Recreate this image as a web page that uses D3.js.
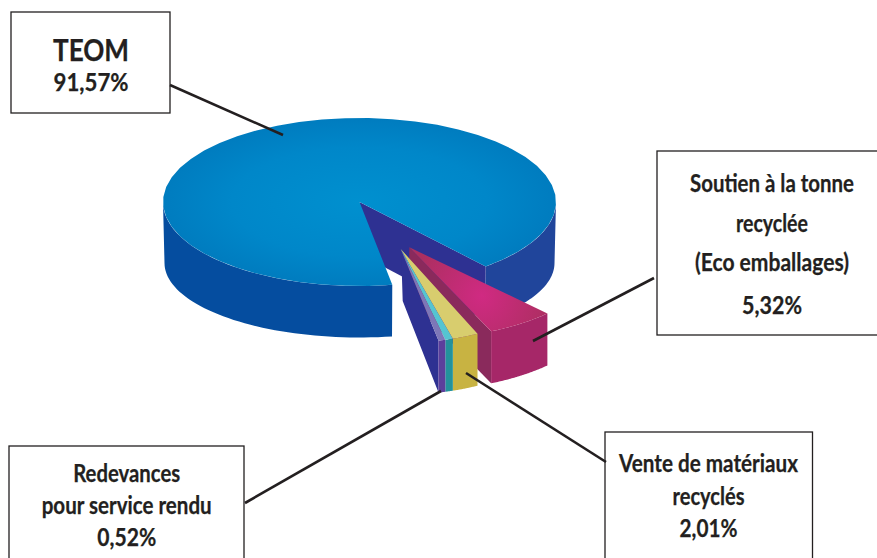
<!DOCTYPE html>
<html>
<head>
<meta charset="utf-8">
<script src="https://cdn.jsdelivr.net/npm/d3@7"></script>
<style>
  html, body { margin: 0; padding: 0; background: #fff; }
  svg { display: block; }
  text { font-family: Lato, "Noto Sans", sans-serif; font-weight: 700; fill: #231f20; stroke: #231f20; stroke-width: 0.25; text-anchor: middle; }
</style>
</head>
<body>
<svg class="chart" width="877" height="558"></svg>
<script>
// shares in pie order, clockwise from the cut at the front of the big slice
const SLICE_NAMES = ["TEOM", "Soutien à la tonne recyclée", "Vente de matériaux recyclés", "(sans étiquette)", "Redevances pour service rendu"];
const SLICE_VALUES = [91.57, 5.32, 2.01, 0.58, 0.52];
const TOP_COLORS = ["url(#topBlue)", "url(#topMagenta)", "#d8cd6e", "#55c4d1", "#7d77b8"];
const FRONT_COLORS = ["#054d9f", "#a62768", "#c8b342", "#23929c", "#5c3f9c"];

const BOX_LINES = [
    ["TEOM", "91,57%"],
    ["Soutien à la tonne", "recyclée", "(Eco emballages)", "5,32%"],
    ["Vente de matériaux", "recyclés", "2,01%"],
    ["Redevances", "pour service rendu", "0,52%"]
];

const PIE_START = 170.4 * Math.PI / 180;
const TOP = {cx: 359.5, cy: 202, rx: 196.5, ry: 84};
const BOTTOM = {cx: 359.5, cy: 263, rx: 195, ry: 74.5};
const PIECE_DEPTH = 52;

// pieces pulled out of the pie: apex position, size, growth towards the viewer, small turn
const MAGENTA_PIECE = {ax: 409.3, ay: 247.3, near: 1.072, slope: 0.16, turn: -1.8 * Math.PI / 180};
const SMALL_PIECE = {ax: 400.7, ay: 249, near: 1.04, slope: 0.5, turn: -0.4 * Math.PI / 180};

const BOXES = [
    {x: 11, y: 12, w: 159, h: 101, baselines: [60.5, 91], sizes: [30, 25], widths: [76, 75], cx: 91},
    {x: 657, y: 151, w: 240, h: 184, baselines: [191.7, 231.7, 270.7, 314], sizes: [24, 24, 24, 24], widths: [164, 72, 154, 60], cx: 772},
    {x: 605, y: 432, w: 207.5, h: 150, baselines: [471.7, 505, 537], sizes: [24, 24, 24], widths: [179, 72, 58], cx: 708.5},
    {x: 9, y: 446, w: 235, h: 140, baselines: [481.7, 514, 546], sizes: [24, 24, 24], widths: [107, 170, 59], cx: 126.7}
];
const LEADERS = [
    [[170, 85], [283, 135]],
    [[654, 278], [533, 341]],
    [[606, 462], [466, 373]],
    [[245, 503], [441, 391]]
];

const svg = d3.select("svg.chart");
const line = d3.line();

const onEllipse = (e, a) => [e.cx + Math.sin(a) * e.rx, e.cy - Math.cos(a) * e.ry];

const sample = (a0, a1) => d3.range(0, 1.0001, 1 / 48).map(t => a0 + (a1 - a0) * t);

const ellipseArc = (e, a0, a1) => sample(a0, a1).map(a => onEllipse(e, a));

const onPiece = (p, a, drop = 0) => {
    const t = a + p.turn;
    const u = Math.sin(t), v = -Math.cos(t);
    const f = p.near + p.slope * (v - 0.85);
    return [p.ax + u * f * TOP.rx, p.ay + v * f * TOP.ry + drop];
};

const pieceArc = (p, a0, a1, drop = 0) => sample(a0, a1).map(a => onPiece(p, a, drop));

const closed = pts => line(pts) + "Z";

const renderGradients = () => {
    const defs = svg.append("defs");
    const blue = defs.append("radialGradient")
        .attr("id", "topBlue")
        .attr("gradientUnits", "userSpaceOnUse")
        .attr("cx", TOP.cx).attr("cy", TOP.cy).attr("r", TOP.rx)
        .attr("gradientTransform", `translate(${TOP.cx},${TOP.cy}) scale(1,${TOP.ry / TOP.rx}) translate(${-TOP.cx},${-TOP.cy})`);
    blue.append("stop").attr("offset", 0).attr("stop-color", "#0090cf");
    blue.append("stop").attr("offset", 0.65).attr("stop-color", "#0087c9");
    blue.append("stop").attr("offset", 1).attr("stop-color", "#007cbf");

    const magenta = defs.append("radialGradient")
        .attr("id", "topMagenta")
        .attr("gradientUnits", "userSpaceOnUse")
        .attr("cx", 482).attr("cy", 296).attr("r", 72);
    magenta.append("stop").attr("offset", 0).attr("stop-color", "#d02a82");
    magenta.append("stop").attr("offset", 1).attr("stop-color", "#ab2f60");
};

const renderMainSlice = arc => {
    const end = arc.endAngle;
    // outer walls, left and front part then the right part
    svg.append("path")
        .attr("d", closed(ellipseArc(TOP, arc.startAngle, 3 * Math.PI / 2)
            .concat(ellipseArc(BOTTOM, 3 * Math.PI / 2, arc.startAngle))))
        .attr("fill", FRONT_COLORS[0]);
    svg.append("path")
        .attr("d", closed(ellipseArc(TOP, 2.5 * Math.PI, end)
            .concat(ellipseArc(BOTTOM, end, 2.5 * Math.PI))))
        .attr("fill", "#20459b");
    // cut face seen through the gap
    svg.append("path")
        .attr("d", closed([
            [TOP.cx, TOP.cy],
            onEllipse(TOP, end),
            onEllipse(BOTTOM, end),
            [TOP.cx, TOP.cy + PIECE_DEPTH]
        ]))
        .attr("fill", "#2e3192");
    svg.append("path")
        .attr("d", closed([[TOP.cx, TOP.cy]].concat(ellipseArc(TOP, arc.startAngle, end))))
        .attr("fill", TOP_COLORS[0]);
};

const renderMagentaPiece = (arc, i) => {
    const p = MAGENTA_PIECE;
    const apex = [p.ax, p.ay];
    const a0 = arc.startAngle % (2 * Math.PI), a1 = arc.endAngle % (2 * Math.PI);
    // cut face on the left
    svg.append("path")
        .attr("d", closed([apex, onPiece(p, a1), onPiece(p, a1, PIECE_DEPTH), [p.ax, p.ay + PIECE_DEPTH]]))
        .attr("fill", "#8a2a5c");
    svg.append("path")
        .attr("d", closed(pieceArc(p, a0, a1).concat(pieceArc(p, a1, a0, PIECE_DEPTH))))
        .attr("fill", FRONT_COLORS[i]);
    svg.append("path")
        .attr("d", closed([apex].concat(pieceArc(p, a0, a1))))
        .attr("fill", TOP_COLORS[i]);
};

const renderSmallPieces = arcs => {
    const p = SMALL_PIECE;
    const apex = [p.ax, p.ay];
    const last = arcs[arcs.length - 1].arc.endAngle % (2 * Math.PI);
    svg.append("path")
        .attr("d", closed([apex, onPiece(p, last), onPiece(p, last, PIECE_DEPTH), [p.ax + 2, p.ay + PIECE_DEPTH], [p.ax + 1, p.ay + 20]]))
        .attr("fill", "#2e3192");
    arcs.forEach(({arc, i}) => {
        const a0 = arc.startAngle % (2 * Math.PI), a1 = arc.endAngle % (2 * Math.PI);
        svg.append("path")
            .attr("d", closed(pieceArc(p, a0, a1).concat(pieceArc(p, a1, a0, PIECE_DEPTH))))
            .attr("fill", FRONT_COLORS[i]);
        svg.append("path")
            .attr("d", closed([apex].concat(pieceArc(p, a0, a1))))
            .attr("fill", TOP_COLORS[i]);
    });
};

const renderBoxes = () => {
    BOXES.forEach((b, k) => {
        svg.append("rect")
            .attr("x", b.x).attr("y", b.y).attr("width", b.w).attr("height", b.h)
            .attr("fill", "#fff").attr("stroke", "#231f20").attr("stroke-width", 1.3);
        BOX_LINES[k].forEach((txt, j) => {
            svg.append("text")
                .attr("x", b.cx).attr("y", b.baselines[j])
                .attr("font-size", b.sizes[j])
                .attr("textLength", b.widths[j])
                .attr("lengthAdjust", "spacingAndGlyphs")
                .text(txt);
        });
    });
};

const renderLeaders = () => {
    LEADERS.forEach(pts => {
        svg.append("path")
            .attr("d", line(pts))
            .attr("fill", "none").attr("stroke", "#231f20").attr("stroke-width", 2.6);
    });
};

const renderChart = () => {
    const arcs = d3.pie().sort(null)
        .startAngle(PIE_START)
        .endAngle(PIE_START + 2 * Math.PI)(SLICE_VALUES);

    renderGradients();
    renderBoxes();
    renderMainSlice(arcs[0]);
    renderMagentaPiece(arcs[1], 1);
    renderSmallPieces([2, 3, 4].map(i => ({arc: arcs[i], i})));
    renderLeaders();
};

renderChart();
</script>
</body>
</html>
